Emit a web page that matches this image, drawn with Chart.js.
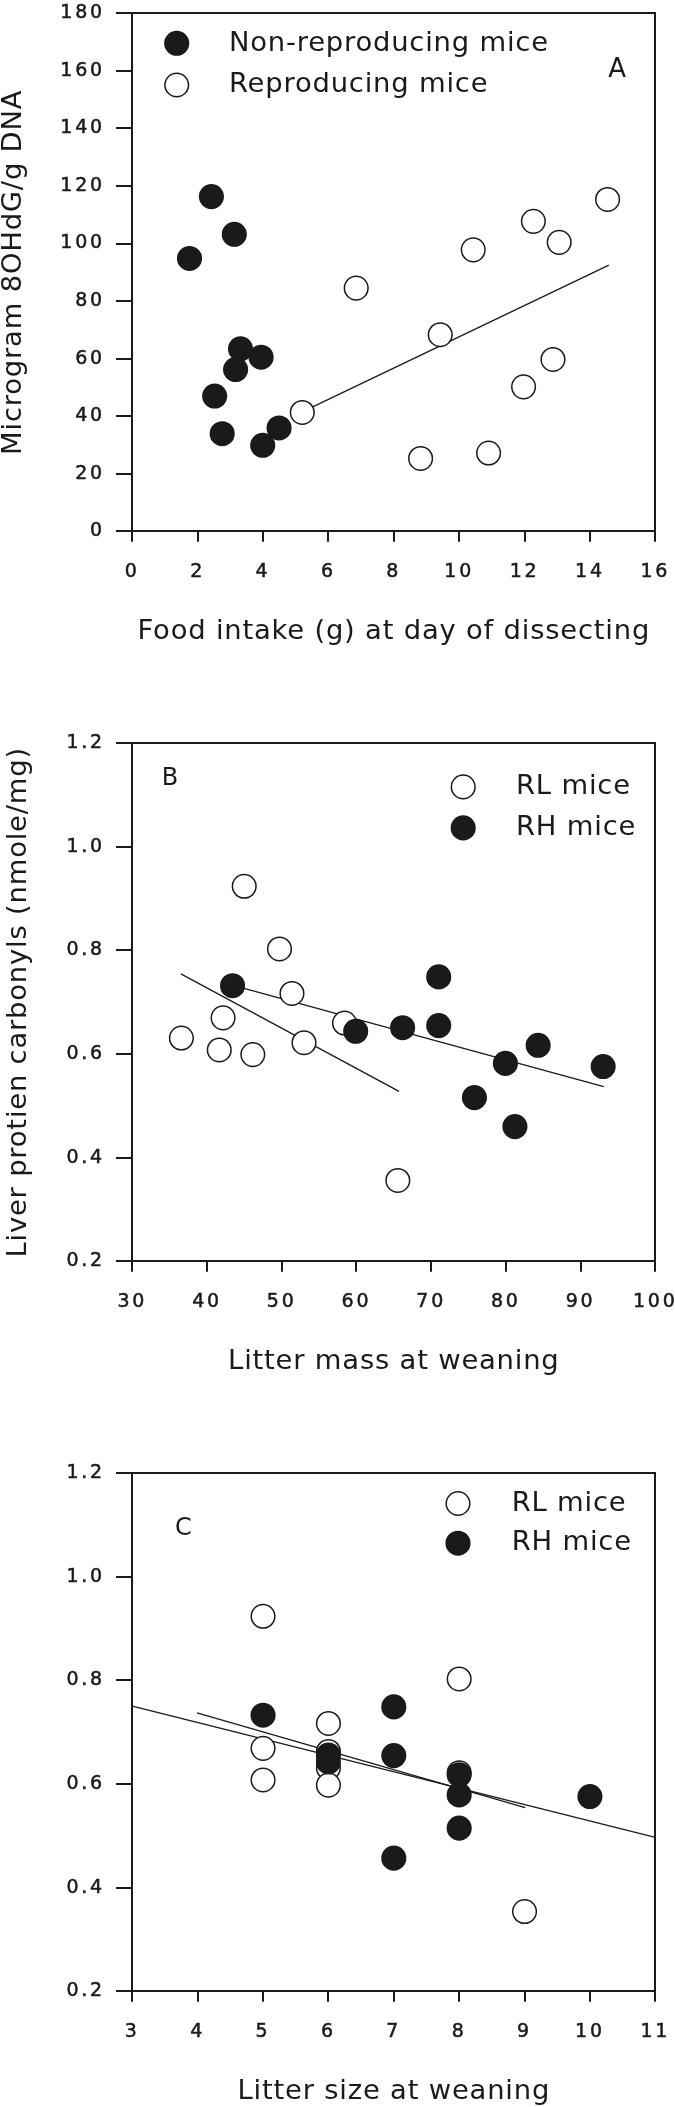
<!DOCTYPE html>
<html>
<head>
<meta charset="utf-8">
<script src="https://cdn.jsdelivr.net/npm/chart.js@4/dist/chart.umd.min.js"></script>
<style>
  html, body { margin: 0; padding: 0; background: #fff; overflow: hidden; width: 675px; height: 2107px; }
  .panel { position: absolute; left: 0; }
  canvas { display: block; }
</style>
</head>
<body>
<div class="panel" style="top:0px"><canvas id="chartA" width="700" height="647"></canvas></div>
<div class="panel" style="top:730px"><canvas id="chartB" width="700" height="647"></canvas></div>
<div class="panel" style="top:1460px"><canvas id="chartC" width="700" height="647"></canvas></div>
<script>
// ---- panel A: 8OHdG vs food intake ----
const nonReproFood = [1.75, 2.42, 3.12, 3.31, 3.94, 3.16, 2.52, 2.75, 3.99, 4.49];
const nonReproDna = [94.8, 116.3, 103.2, 63.4, 60.5, 56.2, 47.0, 33.9, 29.9, 35.9];
const reproFood = [5.2, 6.85, 9.42, 8.82, 10.43, 10.9, 11.97, 12.27, 12.87, 13.06, 14.54];
const reproDna = [41.3, 84.5, 68.3, 25.3, 97.8, 27.2, 50.2, 107.7, 59.7, 100.4, 115.3];
const fitAx = [5.2, 14.58];
const fitAy = [41.5, 92.5];

// ---- panel B: carbonyls vs litter mass ----
const rlMass = [36.57, 44.98, 42.15, 41.64, 46.13, 49.7, 51.37, 52.98, 58.4, 65.54];
const rlCarbB = [0.631, 0.924, 0.67, 0.608, 0.599, 0.803, 0.717, 0.622, 0.66, 0.356];
const rhMass = [43.42, 59.9, 66.18, 71.01, 71.01, 75.79, 79.94, 81.21, 84.32, 93.02];
const rhCarbB = [0.732, 0.644, 0.651, 0.749, 0.655, 0.516, 0.582, 0.46, 0.617, 0.576];
const fitRlBx = [36.5, 65.7];
const fitRlBy = [0.755, 0.528];
const fitRhBx = [43.6, 93.1];
const fitRhBy = [0.732, 0.537];

// ---- panel C: carbonyls vs litter size ----
const rlSize = [5, 5, 5, 6, 6, 6, 6, 8, 8, 9];
const rlCarbC = [0.924, 0.669, 0.608, 0.717, 0.663, 0.631, 0.598, 0.803, 0.622, 0.354];
const rhSize = [5, 6, 6, 7, 7, 7, 8, 8, 8, 10];
const rhCarbC = [0.733, 0.656, 0.643, 0.749, 0.655, 0.457, 0.618, 0.579, 0.515, 0.576];
const fitC1x = [3, 11];
const fitC1y = [0.7505, 0.497];
const fitC2x = [3.99, 9.01];
const fitC2y = [0.7375, 0.5546];

const FONT = "'DejaVu Sans', sans-serif";
const INK = "#1a1a1a";
const TICK_SPACING = "2.8px";
const TEXT_SPACING = "0.8px";
const R = 11.8;

Chart.defaults.font.family = FONT;

const pts = (xs, ys) => xs.map((x, i) => ({ x, y: ys[i] }));
const oneDecimal = (v) => Number(v).toFixed(1);

function dots(label, xs, ys, filled) {
  return {
    label,
    data: pts(xs, ys),
    pointRadius: R,
    pointHoverRadius: R,
    pointBorderWidth: 1.5,
    pointBackgroundColor: filled ? INK : "#fff",
    pointBorderColor: INK,
    showLine: false,
  };
}

function fitLine(xs, ys) {
  return {
    data: pts(xs, ys),
    showLine: true,
    borderColor: INK,
    borderWidth: 1.3,
    pointRadius: 0,
    pointHoverRadius: 0,
    fill: false,
  };
}

function xAxis(min, max, step, title, fmt) {
  return {
    type: "linear",
    position: "bottom",
    min,
    max,
    ticks: {
      stepSize: step,
      color: INK,
      padding: 20.9,
      autoSkip: false,
      maxRotation: 0,
      z: 1,
      textStrokeColor: INK,
      textStrokeWidth: 0.5,
      font: { family: FONT, size: 19, lineHeight: 1 },
      callback: fmt,
    },
    grid: { drawOnChartArea: false, drawTicks: true, tickLength: 10.5, color: INK, lineWidth: 2 },
    border: { display: true, color: INK, width: 2 },
    title: {
      display: true,
      text: title,
      color: INK,
      font: { family: FONT, size: 27.4, lineHeight: 1 },
      padding: { top: 0, bottom: 1.1 },
    },
    afterFit: (s) => {
      s.height = 115.7;
      s.paddingLeft = 0;
      s.paddingRight = 0;
    },
  };
}

function yAxis(min, max, step, title, titlePad, fmt) {
  return {
    type: "linear",
    position: "left",
    min,
    max,
    ticks: {
      stepSize: step,
      color: INK,
      padding: 11,
      z: 1,
      textStrokeColor: INK,
      textStrokeWidth: 0.5,
      font: { family: FONT, size: 19, lineHeight: 1 },
      callback: fmt,
    },
    grid: { drawOnChartArea: false, drawTicks: true, tickLength: 16.3, color: INK, lineWidth: 2 },
    border: { display: true, color: INK, width: 2 },
    title: {
      display: !!title,
      text: title || "",
      color: INK,
      font: { family: FONT, size: 27.4, lineHeight: 1 },
      padding: { top: titlePad, bottom: 0 },
    },
    afterFit: (s) => {
      s.width = 132.3;
      s.paddingTop = 0;
      s.paddingBottom = 0;
    },
  };
}

// frame box, in-plot legend and panel letter
const panelDecor = {
  id: "panelDecor",
  beforeDraw(chart) {
    chart.ctx.letterSpacing = TEXT_SPACING;
  },
  afterDatasetsDraw(chart) {
    chart.ctx.letterSpacing = TICK_SPACING;
  },
  afterDraw(chart, args, opts) {
    const { ctx, chartArea: a } = chart;
    ctx.save();
    ctx.letterSpacing = TEXT_SPACING;
    ctx.strokeStyle = INK;
    ctx.lineWidth = 2;
    const l = Math.round(a.left), t = Math.round(a.top);
    const r = Math.round(a.right), b = Math.round(a.bottom);
    ctx.strokeRect(l, t, r - l, b - t);

    ctx.fillStyle = INK;
    ctx.textBaseline = "middle";
    ctx.textAlign = "left";
    ctx.font = `27.4px ${FONT}`;
    (opts.items || []).forEach((it) => {
      ctx.beginPath();
      ctx.arc(it.x, it.y, R, 0, Math.PI * 2);
      ctx.fillStyle = it.filled ? INK : "#fff";
      ctx.fill();
      ctx.lineWidth = 1.5;
      ctx.strokeStyle = INK;
      ctx.stroke();
      ctx.fillStyle = INK;
      ctx.fillText(it.label, it.tx, it.ty);
    });

    if (opts.letter) {
      ctx.textAlign = "center";
      ctx.font = `${opts.letter.size}px ${FONT}`;
      ctx.fillText(opts.letter.text, opts.letter.x, opts.letter.y);
    }
    ctx.restore();
  },
};

function makeChart(id, datasets, scales, decor) {
  return new Chart(document.getElementById(id), {
    type: "scatter",
    data: { datasets },
    options: {
      responsive: false,
      animation: false,
      events: [],
      layout: { padding: { left: 0, top: 7.4, right: 44.7, bottom: 0 } },
      plugins: { legend: { display: false }, tooltip: { enabled: false }, panelDecor: decor },
      scales,
    },
    plugins: [panelDecor],
  });
}

makeChart(
  "chartA",
  [
    dots("Non-reproducing mice", nonReproFood, nonReproDna, true),
    dots("Reproducing mice", reproFood, reproDna, false),
    fitLine(fitAx, fitAy),
  ],
  {
    x: xAxis(0, 16, 2, "Food intake (g) at day of dissecting"),
    y: yAxis(0, 180, 20, "Microgram 8OHdG/g DNA", 0),
  },
  {
    letter: { text: "A", x: 617.5, y: 70, size: 26 },
    items: [
      { filled: true, x: 176.7, y: 43.3, label: "Non-reproducing mice", tx: 229, ty: 44.2 },
      { filled: false, x: 176.7, y: 85, label: "Reproducing mice", tx: 229, ty: 85.3 },
    ],
  },
);

makeChart(
  "chartB",
  [
    dots("RH mice", rhMass, rhCarbB, true),
    dots("RL mice", rlMass, rlCarbB, false),
    fitLine(fitRlBx, fitRlBy),
    fitLine(fitRhBx, fitRhBy),
  ],
  {
    x: xAxis(30, 100, 10, "Litter mass at weaning"),
    y: yAxis(0.2, 1.2, 0.2, "Liver protien carbonyls (nmole/mg)", 5.3, oneDecimal),
  },
  {
    letter: { text: "B", x: 170.3, y: 48.3, size: 24 },
    items: [
      { filled: false, x: 463.2, y: 56.9, label: "RL mice", tx: 516, ty: 57 },
      { filled: true, x: 463.2, y: 97.9, label: "RH mice", tx: 516, ty: 98 },
    ],
  },
);

makeChart(
  "chartC",
  [
    dots("RH mice", rhSize, rhCarbC, true),
    dots("RL mice", rlSize, rlCarbC, false),
    fitLine(fitC1x, fitC1y),
    fitLine(fitC2x, fitC2y),
  ],
  {
    x: xAxis(3, 11, 1, "Litter size at weaning"),
    y: yAxis(0.2, 1.2, 0.2, "", 0, oneDecimal),
  },
  {
    letter: { text: "C", x: 183.8, y: 69.2, size: 24 },
    items: [
      { filled: false, x: 458, y: 43.5, label: "RL mice", tx: 511.7, ty: 43.5 },
      { filled: true, x: 458, y: 83.2, label: "RH mice", tx: 511.7, ty: 83.2 },
    ],
  },
);
</script>
</body>
</html>
